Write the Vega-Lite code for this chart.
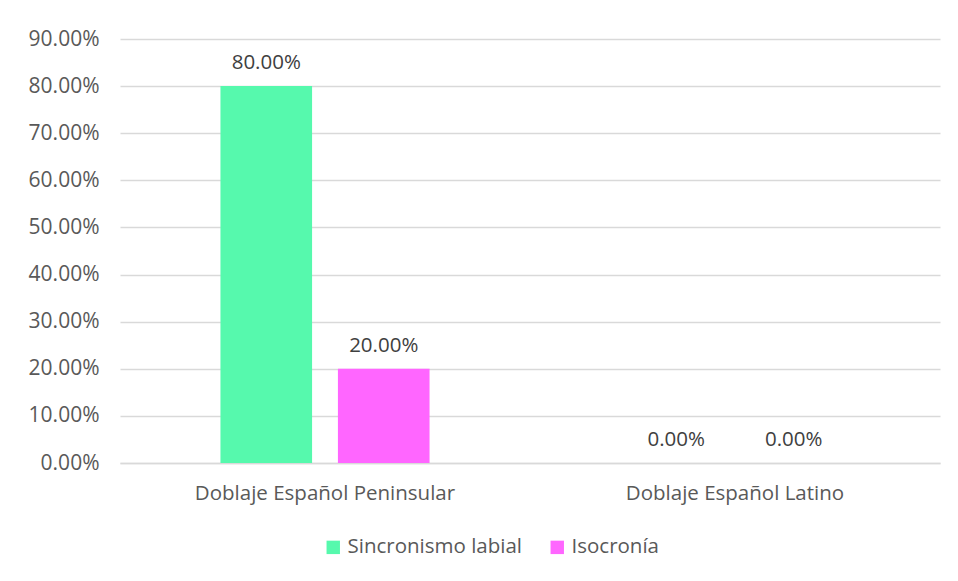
{
  "$schema": "https://vega.github.io/schema/vega-lite/v6.json",
  "width": 820,
  "height": 424,
  "autosize": {"type": "none"},
  "padding": {"left": 120, "top": 39, "right": 18, "bottom": 118},
  "background": "white",
  "data": {
    "values": [
      {"categoria": "Doblaje Español Peninsular", "serie": "Sincronismo labial", "valor": 0.8},
      {"categoria": "Doblaje Español Peninsular", "serie": "Isocronía", "valor": 0.2},
      {"categoria": "Doblaje Español Latino", "serie": "Sincronismo labial", "valor": 0.0},
      {"categoria": "Doblaje Español Latino", "serie": "Isocronía", "valor": 0.0}
    ]
  },
  "encoding": {
    "x": {
      "field": "categoria",
      "type": "nominal",
      "sort": ["Doblaje Español Peninsular", "Doblaje Español Latino"],
      "scale": {"paddingInner": 0.49, "paddingOuter": 0.245},
      "axis": {"title": null, "labelAngle": 0, "labelLimit": 0, "ticks": false, "domainColor": "#D9D9D9", "domainWidth": 1.5, "labelPadding": 20, "labelFontSize": 20.5, "labelColor": "#595959", "labelFont": "Open Sans"}
    },
    "xOffset": {
      "field": "serie",
      "type": "nominal",
      "sort": ["Sincronismo labial", "Isocronía"],
      "scale": {"paddingInner": 0.22, "paddingOuter": 0}
    },
    "y": {
      "field": "valor",
      "type": "quantitative",
      "scale": {"domain": [0, 0.9]},
      "axis": {"title": null, "format": ".2%", "values": [0, 0.1, 0.2, 0.3, 0.4, 0.5, 0.6, 0.7, 0.8, 0.9], "ticks": false, "domain": false, "gridColor": "#D9D9D9", "gridWidth": 1.5, "labelPadding": 21, "labelFontSize": 21, "labelColor": "#595959", "labelFont": "Open Sans"}
    }
  },
  "layer": [
    {
      "mark": {"type": "bar"},
      "encoding": {
        "color": {
          "field": "serie",
          "type": "nominal",
          "sort": ["Sincronismo labial", "Isocronía"],
          "scale": {"domain": ["Sincronismo labial", "Isocronía"], "range": ["#56F9AD", "#FF66FF"]},
          "legend": {"title": null, "orient": "none", "legendX": 203, "legendY": 498, "direction": "horizontal", "symbolType": "square", "symbolSize": 180, "symbolStrokeWidth": 0, "labelFontSize": 20.5, "labelLimit": 0, "labelColor": "#595959", "labelFont": "Open Sans", "columnPadding": 24, "labelOffset": 4}
        }
      }
    },
    {
      "mark": {"type": "text", "baseline": "bottom", "dy": -13, "fontSize": 20.5, "color": "#404040", "font": "Open Sans"},
      "encoding": {
        "text": {"field": "valor", "type": "quantitative", "format": ".2%"}
      }
    }
  ],
  "config": {"view": {"stroke": null}}
}
